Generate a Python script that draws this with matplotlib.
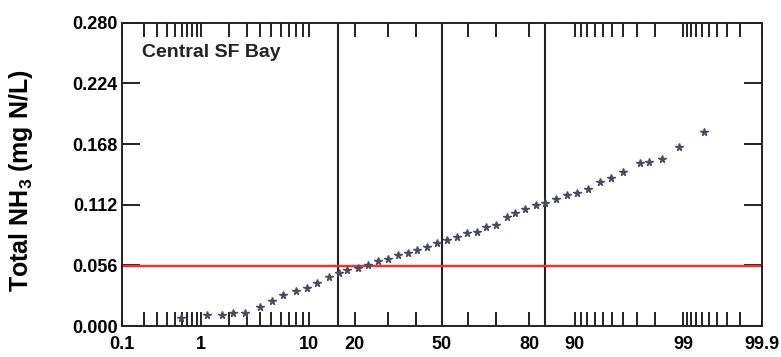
import numpy as np
import matplotlib
matplotlib.use("Agg")
import matplotlib.pyplot as plt
from statistics import NormalDist

# ---- data ----
prob_pct = [0.59, 1.16, 1.68, 2.21, 2.87, 3.96, 5.03, 6.30, 7.92, 9.60,
            11.35, 13.81, 15.97, 18.12, 21.0, 23.9, 26.8, 30.3, 33.7, 37.2,
            40.4, 44.3, 48.0, 51.9, 55.7, 59.5, 63.2, 66.6, 69.9, 73.4,
            76.0, 78.9, 81.8, 84.0, 86.4, 88.6, 90.4, 92.1, 93.7, 94.9,
            96.0, 97.2, 97.7, 98.3, 98.9, 99.43]
nh3 = [0.0071, 0.0102, 0.0102, 0.0123, 0.0123, 0.0173, 0.0231, 0.0286, 0.0326, 0.0348,
       0.0400, 0.0455, 0.0486, 0.0520, 0.0540, 0.0566, 0.0602, 0.0620, 0.0655, 0.0671,
       0.0704, 0.0732, 0.0763, 0.0794, 0.0819, 0.0856, 0.0870, 0.0911, 0.0930, 0.1003,
       0.1040, 0.1077, 0.1117, 0.1135, 0.1170, 0.1206, 0.1225, 0.1262, 0.1334, 0.1371,
       0.1424, 0.1502, 0.1517, 0.1539, 0.1650, 0.1794]
threshold = 0.055
sigma_lines_pct = [15.87, 50.0, 84.13]
x_label_ticks = [0.1, 1, 10, 20, 50, 80, 90, 99, 99.9]
x_label_text = ["0.1", "1", "10", "20", "50", "80", "90", "99", "99.9"]
x_minor_ticks = [0.2, 0.3, 0.4, 0.5, 0.6, 0.7, 0.8, 0.9,
                 2, 3, 4, 5, 6, 7, 8, 9,
                 30, 40, 60, 70,
                 91, 92, 93, 94, 95, 96, 97, 98,
                 99.1, 99.2, 99.3, 99.4, 99.5, 99.6, 99.7, 99.8]
y_ticks = [0.000, 0.056, 0.112, 0.168, 0.224, 0.280]
panel_title = "Central SF Bay"

# ---- probability scale ----
_nd = NormalDist()

def _fwd(p):
    p = np.clip(np.asarray(p, dtype=float), 1e-6, 100 - 1e-6)
    return np.vectorize(lambda v: _nd.inv_cdf(v / 100.0))(p) if p.size else p

def _inv(z):
    z = np.asarray(z, dtype=float)
    return np.vectorize(lambda v: _nd.cdf(v) * 100.0)(z) if z.size else z

plt.rcParams['font.family'] = ['Liberation Sans', 'DejaVu Sans']
plt.rcParams['mathtext.fontset'] = 'custom'
plt.rcParams['mathtext.rm'] = 'Liberation Sans:bold'
plt.rcParams['mathtext.bf'] = 'Liberation Sans:bold'
plt.rcParams['mathtext.it'] = 'Liberation Sans:bold'

fig = plt.figure(figsize=(7.81, 3.57), dpi=100)
ax = fig.add_axes([0.1558, 0.0868, 0.8199, 0.8496])
ax.set_xscale('function', functions=(_fwd, _inv))
ax.set_xlim(0.1, 99.9)
ax.set_ylim(0, 0.28)

for v in sigma_lines_pct:
    ax.axvline(v, color='#222222', lw=1.5, zorder=2)
ax.axhline(threshold, color='#ff2a2a', lw=1.7, zorder=2)

ax.plot(prob_pct, nh3, linestyle='none', marker='*', markersize=5.5,
        color='#4a4a60', zorder=3)

ax.set_xticks(x_label_ticks)
ax.set_xticklabels(x_label_text)
ax.set_xticks(x_minor_ticks, minor=True)
ax.xaxis.set_minor_formatter(matplotlib.ticker.NullFormatter())
ax.tick_params(axis='x', which='both', direction='in', length=10, width=1.4,
               top=True, bottom=True, color='#222222')
ax.tick_params(axis='x', which='major', pad=7, labelsize=13)
for lbl in ax.get_xticklabels():
    lbl.set_fontweight('bold')

ax.set_yticks(y_ticks)
ax.set_yticklabels([f"{v:.3f}" for v in y_ticks])
ax.tick_params(axis='y', which='major', direction='in', length=13, width=1.4,
               left=True, right=True, pad=3, labelsize=13, color='#222222')
for lbl in ax.get_yticklabels():
    lbl.set_fontweight('bold')

for s in ax.spines.values():
    s.set_linewidth(1.4)
    s.set_color('#222222')

ax.set_ylabel(r"Total NH$_{\mathbf{3}}$ (mg N/L)", fontsize=18, fontweight='bold')
ax.yaxis.set_label_coords(-0.135, 0.48)

ax.text(0.032, 0.903, panel_title, transform=ax.transAxes, fontsize=14,
        fontweight='bold', va='center', ha='left', color='#222222')

fig.savefig("out.png", dpi=100)
